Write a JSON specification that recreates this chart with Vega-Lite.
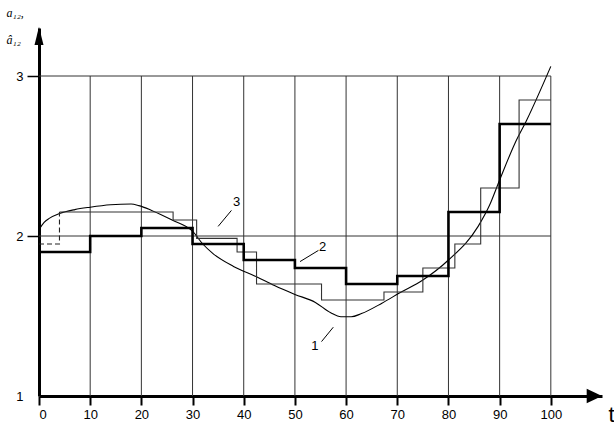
{
  "$schema": "https://vega.github.io/schema/vega-lite/v6.json",
  "width": 563,
  "height": 368,
  "autosize": {"type": "none"},
  "padding": {"left": 39, "top": 28, "right": 12, "bottom": 30},
  "background": "white",
  "config": {"view": {"stroke": null}, "font": "Liberation Sans"},
  "datasets": {
    "grid": [
      {"t": 10, "v": 1, "t2": 10, "v2": 3},
      {"t": 20, "v": 1, "t2": 20, "v2": 3},
      {"t": 30, "v": 1, "t2": 30, "v2": 3},
      {"t": 40, "v": 1, "t2": 40, "v2": 3},
      {"t": 50, "v": 1, "t2": 50, "v2": 3},
      {"t": 60, "v": 1, "t2": 60, "v2": 3},
      {"t": 70, "v": 1, "t2": 70, "v2": 3},
      {"t": 80, "v": 1, "t2": 80, "v2": 3},
      {"t": 90, "v": 1, "t2": 90, "v2": 3},
      {"t": 100, "v": 1, "t2": 100, "v2": 3},
      {"t": 0, "v": 2, "t2": 100, "v2": 2},
      {"t": 0, "v": 3, "t2": 100, "v2": 3}
    ],
    "curve1": [
      {"t": 0, "v": 2.04}, {"t": 1, "v": 2.085}, {"t": 2, "v": 2.11}, {"t": 4, "v": 2.14},
      {"t": 7, "v": 2.165}, {"t": 10, "v": 2.18}, {"t": 14, "v": 2.195}, {"t": 18, "v": 2.2},
      {"t": 19.5, "v": 2.19}, {"t": 22, "v": 2.16}, {"t": 26, "v": 2.1}, {"t": 30, "v": 2.03},
      {"t": 32, "v": 1.95}, {"t": 34, "v": 1.89}, {"t": 38, "v": 1.81}, {"t": 42.5, "v": 1.745},
      {"t": 46, "v": 1.69}, {"t": 50, "v": 1.635}, {"t": 54, "v": 1.585}, {"t": 57, "v": 1.52},
      {"t": 59, "v": 1.495}, {"t": 61, "v": 1.495}, {"t": 63, "v": 1.515}, {"t": 67, "v": 1.58},
      {"t": 70.5, "v": 1.645}, {"t": 75, "v": 1.725}, {"t": 80, "v": 1.85}, {"t": 85.8, "v": 2.06},
      {"t": 88, "v": 2.19}, {"t": 90, "v": 2.35}, {"t": 93, "v": 2.58}, {"t": 95.3, "v": 2.725},
      {"t": 100, "v": 3.06}
    ],
    "step2": [
      {"t": 0, "v": 1.9}, {"t": 10, "v": 2.0}, {"t": 20, "v": 2.05}, {"t": 30, "v": 1.95},
      {"t": 40, "v": 1.85}, {"t": 50, "v": 1.8}, {"t": 60, "v": 1.7}, {"t": 70, "v": 1.75},
      {"t": 80, "v": 2.15}, {"t": 90, "v": 2.7}, {"t": 100, "v": 2.7}
    ],
    "step3": [
      {"t": 4, "v": 2.15}, {"t": 26.2, "v": 2.1}, {"t": 30.8, "v": 1.985}, {"t": 38.7, "v": 1.9},
      {"t": 42.5, "v": 1.7}, {"t": 55.2, "v": 1.6}, {"t": 67.4, "v": 1.65}, {"t": 75, "v": 1.8},
      {"t": 81.25, "v": 1.95}, {"t": 86.3, "v": 2.3}, {"t": 93.8, "v": 2.85}, {"t": 100, "v": 2.85}
    ],
    "dash3": [
      {"t": 0, "v": 1.95}, {"t": 4, "v": 2.15}
    ],
    "leaders": [
      {"t": 35.0, "v": 2.06, "t2": 37.6, "v2": 2.16},
      {"t": 51.0, "v": 1.84, "t2": 54.6, "v2": 1.91},
      {"t": 55.2, "v": 1.34, "t2": 57.5, "v2": 1.43}
    ],
    "labels": [
      {"t": 38.6, "v": 2.21, "lab": "3"},
      {"t": 55.4, "v": 1.93, "lab": "2"},
      {"t": 53.9, "v": 1.31, "lab": "1"}
    ],
    "arrowY": [{"t": 0, "v": 3.3}],
    "arrowX": [{"t": 110, "v": 1}]
  },
  "encoding": {
    "x": {
      "field": "t", "type": "quantitative",
      "scale": {"domain": [0, 110], "nice": false, "zero": false},
      "axis": {
        "values": [0, 10, 20, 30, 40, 50, 60, 70, 80, 90, 100],
        "grid": false,
        "domainColor": "black", "domainWidth": 3,
        "tickColor": "black", "tickWidth": 2, "tickSize": 9,
        "labelFont": "Liberation Sans", "labelFontSize": 13, "labelColor": "black", "labelPadding": 3,
        "title": "t", "titleFont": "Liberation Sans", "titleFontSize": 22, "titleFontWeight": "normal",
        "titleColor": "black", "titleX": 572, "titleY": 25, "titleAlign": "center", "titleBaseline": "alphabetic"
      }
    },
    "y": {
      "field": "v", "type": "quantitative",
      "scale": {"domain": [1, 3.3], "nice": false, "zero": false},
      "axis": {
        "values": [1, 2, 3],
        "grid": false,
        "domainColor": "black", "domainWidth": 3,
        "tickColor": {"condition": {"test": "datum.value == 1", "value": "transparent"}, "value": "black"},
        "tickWidth": 1.5, "tickSize": 12,
        "labelFont": "Liberation Sans", "labelFontSize": 13, "labelColor": "black", "labelPadding": 4,
        "title": ["a₁₂,", "â₁₂"], "titleFont": "Liberation Serif", "titleFontStyle": "italic",
        "titleFontSize": 12, "titleFontWeight": "normal", "titleColor": "black",
        "titleAngle": 0, "titleAlign": "left", "titleBaseline": "alphabetic",
        "titleX": -33, "titleY": -12, "titleLineHeight": 27
      }
    }
  },
  "layer": [
    {
      "data": {"name": "grid"},
      "mark": {"type": "rule", "color": "#333", "strokeWidth": 1},
      "encoding": {"x2": {"field": "t2"}, "y2": {"field": "v2"}}
    },
    {
      "data": {"name": "curve1"},
      "mark": {"type": "line", "interpolate": "monotone", "color": "black", "strokeWidth": 1.1}
    },
    {
      "data": {"name": "step3"},
      "mark": {"type": "line", "interpolate": "step-after", "color": "#333", "strokeWidth": 1.1}
    },
    {
      "data": {"name": "dash3"},
      "mark": {"type": "line", "interpolate": "step-after", "color": "#222", "strokeWidth": 1.1, "strokeDash": [5, 3]}
    },
    {
      "data": {"name": "step2"},
      "mark": {"type": "line", "interpolate": "step-after", "color": "black", "strokeWidth": 2.6}
    },
    {
      "data": {"name": "leaders"},
      "mark": {"type": "rule", "color": "black", "strokeWidth": 1},
      "encoding": {"x2": {"field": "t2"}, "y2": {"field": "v2"}}
    },
    {
      "data": {"name": "labels"},
      "mark": {"type": "text", "font": "Liberation Sans", "fontSize": 13, "color": "black", "align": "center", "baseline": "middle"},
      "encoding": {"text": {"field": "lab"}}
    },
    {
      "data": {"name": "arrowY"},
      "mark": {"type": "point", "shape": "M0,-0.3L-1,3.8L1,3.8Z", "size": 81, "filled": true, "color": "black", "opacity": 1}
    },
    {
      "data": {"name": "arrowX"},
      "mark": {"type": "point", "shape": "M0,0L-3.4,-1.6L-3.4,1.6Z", "size": 81, "filled": true, "color": "black", "opacity": 1}
    }
  ]
}
